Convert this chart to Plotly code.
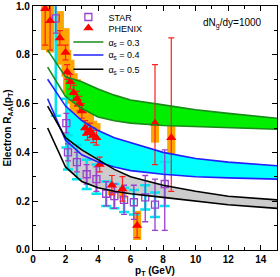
import plotly.graph_objects as go

# theory bands (pT grid)
band_pt = [0.9, 2, 3, 4, 5, 6, 8, 10, 12, 15]
g_up = [0.82, 0.71, 0.69, 0.66, 0.635, 0.615, 0.595, 0.575, 0.56, 0.54]
g_lo = [0.75, 0.63, 0.58, 0.545, 0.53, 0.52, 0.51, 0.505, 0.50, 0.495]
b_up = [0.70, 0.59, 0.53, 0.49, 0.46, 0.44, 0.40, 0.375, 0.36, 0.345]
b_lo = [0.62, 0.45, 0.39, 0.36, 0.34, 0.325, 0.31, 0.30, 0.295, 0.29]
k_up = [0.59, 0.46, 0.41, 0.37, 0.33, 0.30, 0.265, 0.24, 0.22, 0.205]
k_lo = [0.50, 0.34, 0.28, 0.255, 0.24, 0.23, 0.215, 0.20, 0.185, 0.17]
fill_from_pt = 2.0  # shaded part of each band

# PHENIX
ph_pt = [0.75, 1.05, 1.65, 2.0, 2.1, 2.3, 2.5, 2.7, 2.85, 3.0, 3.2, 3.35, 3.5, 3.7, 3.9, 4.1, 4.85, 5.5, 6.4, 7.5, 8.5]
ph_r = [0.99, 0.94, 0.87, 0.81, 0.73, 0.69, 0.645, 0.62, 0.60, 0.57, 0.50, 0.48, 0.49, 0.47, 0.46, 0.35, 0.265, 0.25, 0.10, 0.52, 0.46]
ph_st_up = [0.05, 0.08, 0.03, 0.03, 0.03, 0.03, 0.03, 0.03, 0.03, 0.03, 0.03, 0.03, 0.03, 0.03, 0.03, 0.03, 0.04, 0.05, 0.05, 0.24, 0.41]
ph_st_dn = [0.15, 0.12, 0.03, 0.03, 0.03, 0.03, 0.03, 0.03, 0.03, 0.03, 0.03, 0.03, 0.03, 0.03, 0.03, 0.03, 0.04, 0.05, 0.05, 0.17, 0.22]
ph_sys = [0.17, 0.13, 0.11, 0.10, 0.09, 0.09, 0.08, 0.08, 0.08, 0.07, 0.07, 0.07, 0.07, 0.06, 0.06, 0.05, 0.04, 0.04, 0.06, 0.08, 0.10]

# STAR
st_pt = [1.4, 2.05, 2.15, 2.7, 3.3, 3.9, 4.5, 5.0, 5.6, 6.2, 6.9, 7.5, 8.1]
st_r = [0.95, 0.52, 0.40, 0.36, 0.31, 0.29, 0.23, 0.22, 0.205, 0.195, 0.215, 0.185, 0.27]
st_st_up = [0.06, 0.04, 0.035, 0.04, 0.04, 0.05, 0.05, 0.05, 0.06, 0.07, 0.09, 0.105, 0.14]
st_st_dn = [0.06, 0.04, 0.035, 0.04, 0.04, 0.05, 0.05, 0.05, 0.06, 0.07, 0.10, 0.105, 0.19]
st_sys = [0.40, 0.10, 0.07, 0.07, 0.06, 0.06, 0.05, 0.05, 0.05, 0.05, 0.05, 0.05, 0.09]

x_ticks = [0, 2, 4, 6, 8, 10, 12, 14]
y_ticks = [0.0, 0.2, 0.4, 0.6, 0.8, 1.0]

FONT = "Liberation Sans, Arial, sans-serif"
fig = go.Figure()

bands = [(g_lo, g_up, "#00ee00", "#1a8a1a", "α<sub>s</sub> = 0.3", "legend3"),
         (b_lo, b_up, "#00ffff", "#2020ff", "α<sub>s</sub> = 0.4", "legend4"),
         (k_lo, k_up, "#cccccc", "#000000", "α<sub>s</sub> = 0.5", "legend5")]
idx = [i for i, p in enumerate(band_pt) if p >= fill_from_pt]
fx = [band_pt[i] for i in idx]
for lo, up, fc, lc, name, lg in bands:
    fig.add_trace(go.Scatter(x=fx, y=[lo[i] for i in idx], mode="lines", line=dict(width=0),
                             showlegend=False, hoverinfo="skip"))
    fig.add_trace(go.Scatter(x=fx, y=[up[i] for i in idx], mode="lines", line=dict(width=0), fill="tonexty",
                             fillcolor=fc, showlegend=False, hoverinfo="skip"))

# PHENIX sys boxes
fig.add_trace(go.Bar(x=ph_pt, y=[2 * s for s in ph_sys], base=[r - s for r, s in zip(ph_r, ph_sys)],
                     width=0.5, marker=dict(color="#ffa500", line=dict(width=0)), showlegend=False))
# STAR sys
fig.add_trace(go.Scatter(x=st_pt, y=st_r, mode="markers", marker=dict(size=1, color="rgba(0,0,0,0)"),
                         error_y=dict(type="data", array=st_sys, color="#00e5ee", thickness=2.5, width=5),
                         showlegend=False))

fig.add_trace(go.Scatter(x=st_pt, y=st_r, mode="markers", name="STAR", legend="legend",
                         marker=dict(symbol="square-open", size=7, color="#9a3fd0", line=dict(width=1.3)),
                         error_y=dict(type="data", array=st_st_up, arrayminus=st_st_dn, color="#9a3fd0",
                                      thickness=1.3, width=3)))
fig.add_trace(go.Scatter(x=ph_pt, y=ph_r, mode="markers", name="PHENIX", legend="legend2",
                         marker=dict(symbol="triangle-up", size=9, color="#ff0000"),
                         error_y=dict(type="data", array=ph_st_up, arrayminus=ph_st_dn, color="#ff2020",
                                      thickness=1.2, width=3)))

# band lines on top
for lo, up, fc, lc, name, lg in bands:
    fig.add_trace(go.Scatter(x=band_pt, y=up, mode="lines", line=dict(color=lc, width=1.6), name=name, legend=lg))
    fig.add_trace(go.Scatter(x=band_pt, y=lo, mode="lines", line=dict(color=lc, width=1.6), showlegend=False))

fig.add_annotation(text="dN<sub>g</sub>/dy=1000", xref="paper", yref="paper", x=0.945, y=0.93,
                   xanchor="right", yanchor="middle", showarrow=False, font=dict(family=FONT, size=10, color="black"))

axis_common = dict(showline=True, linecolor="black", linewidth=1.2, mirror="allticks", ticks="inside",
                   ticklen=5, tickwidth=1, tickcolor="black", showgrid=False, zeroline=False,
                   automargin=False, ticklabeloverflow="allow",
                   tickfont=dict(family=FONT, size=10, color="black", weight="bold"))
fig.update_xaxes(range=[0, 15], tickmode="array", tickvals=x_ticks, ticktext=[str(v) for v in x_ticks],
                 minor=dict(dtick=1, tick0=0, ticks="inside", ticklen=3, tickcolor="black"),
                 title=dict(text="<b>p<sub>T</sub> (GeV)</b>", font=dict(family=FONT, size=10, color="black"), standoff=2),
                 **axis_common)
fig.update_yaxes(range=[-0.001, 1.001], tickmode="array", tickvals=y_ticks, ticktext=["%.1f" % v for v in y_ticks],
                 minor=dict(dtick=0.1, tick0=0, ticks="inside", ticklen=3, tickcolor="black"),
                 title=dict(text="<b>Electron R<sub>AA</sub>(p<sub>T</sub>)</b>", font=dict(family=FONT, size=10, color="black"), standoff=2),
                 **axis_common)

leg_common = dict(x=0.145, xanchor="left", yanchor="middle", bgcolor="rgba(0,0,0,0)",
                  font=dict(family=FONT, size=9, color="black"), tracegroupgap=0, itemwidth=30)
leg_y = [0.951, 0.906, 0.849, 0.796, 0.738]
fig.update_layout(width=280, height=277, margin=dict(l=33, r=3, t=5, b=27, pad=0),
                  paper_bgcolor="white", plot_bgcolor="white", barmode="overlay",
                  legend=dict(y=leg_y[0], **leg_common),
                  legend2=dict(y=leg_y[1], **leg_common),
                  legend3=dict(y=leg_y[2], **leg_common),
                  legend4=dict(y=leg_y[3], **leg_common),
                  legend5=dict(y=leg_y[4], **leg_common),
                  showlegend=True)
fig.write_html("out.html", config={"displayModeBar": False},
               post_script="document.body.style.margin='0';document.body.style.padding='0';")
